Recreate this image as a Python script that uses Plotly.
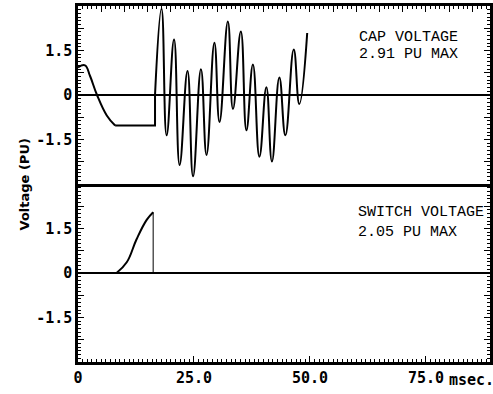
import plotly.graph_objects as go
from plotly.subplots import make_subplots

# ---- data ----
cap_pre_t = [0.0, 1.5, 2.6, 4.1, 6.2, 8.0]
cap_pre_v = [0.93, 1.0, 0.64, 0.0, -0.69, -1.03]
cap_flat_t = [8.0, 16.6, 16.6]
cap_flat_v = [-1.03, -1.03, 0.0]
cap_osc_t = [16.6, 18.0, 19.1, 20.7, 21.9, 23.6, 24.8, 26.5, 27.7, 29.4, 30.5,
             32.3, 33.4, 35.1, 36.3, 37.7, 39.1, 40.6, 41.8, 43.4, 44.7, 46.5,
             47.7, 49.4]
cap_osc_v = [0.0, 2.91, -1.36, 1.87, -2.36, 0.81, -2.74, 0.87, -2.02, 1.76, -0.91,
             2.48, -0.47, 2.14, -1.19, 1.03, -2.08, 0.26, -2.24, 0.59, -1.36, 1.53,
             -0.3, 2.09]

sw_t = [8.3, 10.5, 12.6, 14.8, 16.2]
sw_v = [0.0, 0.36, 1.13, 1.79, 2.05]
sw_drop_t = [16.2, 16.2]
sw_drop_v = [2.05, 0.0]

x_range = [0, 88.8]
y_range = [-3, 3]
x_major = [v * 5 for v in range(18)]
x_labels = {0: "0", 25: "25.0", 50: "50.0", 75: "75.0"}
y_major = [-3 + 0.75 * i for i in range(9)]
y_labels = {1.5: "1.5", 0.0: "0", -1.5: "-1.5"}

fig = make_subplots(rows=2, cols=1, vertical_spacing=0)

line = dict(color="black", width=2)
fig.add_trace(go.Scatter(x=cap_pre_t, y=cap_pre_v, mode="lines",
                         line=dict(shape="spline", smoothing=1.2, **line)), 1, 1)
fig.add_trace(go.Scatter(x=cap_flat_t, y=cap_flat_v, mode="lines", line=line), 1, 1)
fig.add_trace(go.Scatter(x=cap_osc_t, y=cap_osc_v, mode="lines",
                         line=dict(shape="spline", smoothing=1.3, **line)), 1, 1)
fig.add_trace(go.Scatter(x=sw_t, y=sw_v, mode="lines",
                         line=dict(shape="spline", smoothing=1.2, **line)), 2, 1)
fig.add_trace(go.Scatter(x=sw_drop_t, y=sw_drop_v, mode="lines",
                         line=dict(color="black", width=1)), 2, 1)

tickfont = dict(family="DejaVu Sans Mono", size=15, color="black", weight="bold")

xcommon = dict(range=x_range, showgrid=False, zeroline=False, showline=True,
               linecolor="black", linewidth=2.5, ticks="inside", ticklen=6,
               tickcolor="black", tickwidth=1.2, automargin=False,
               tickmode="array", tickvals=x_major,
               minor=dict(tickvals=list(range(0, 89)), ticks="inside", ticklen=3,
                          tickcolor="black", tickwidth=1))
fig.update_xaxes(side="top", showticklabels=False, mirror=True, row=1, col=1, **xcommon)
fig.update_xaxes(side="bottom", mirror=False, ticktext=[x_labels.get(v, "") for v in x_major],
                 tickfont=tickfont, row=2, col=1, **xcommon)

ycommon = dict(range=y_range, showgrid=False, zeroline=True, zerolinecolor="black",
               zerolinewidth=2, showline=True, linecolor="black", linewidth=2.5,
               ticks="inside", ticklen=6, tickcolor="black", tickwidth=1.2,
               mirror="ticks", tickmode="array", tickvals=y_major, automargin=False,
               ticktext=[y_labels.get(v, "") for v in y_major], tickfont=tickfont,
               minor=dict(dtick=0.125, ticks="inside", ticklen=3, tickcolor="black", tickwidth=1))
fig.update_yaxes(row=1, col=1, **ycommon)
fig.update_yaxes(row=2, col=1, **ycommon)

afont = dict(family="Liberation Mono", size=15, color="black")
ann = [
    dict(x=60.2, y=1.93, xref="x", yref="y", text="CAP VOLTAGE"),
    dict(x=60.2, y=1.37, xref="x", yref="y", text="2.91 PU MAX"),
    dict(x=60.0, y=2.04, xref="x2", yref="y2", text="SWITCH VOLTAGE"),
    dict(x=60.0, y=1.38, xref="x2", yref="y2", text="2.05 PU MAX"),
]
for a in ann:
    fig.add_annotation(xanchor="left", yanchor="middle", showarrow=False, font=afont, **a)

fig.add_annotation(x=-0.153, y=0.5, xref="paper", yref="paper", text="Voltage (PU)",
                   textangle=-90, showarrow=False,
                   font=dict(family="DejaVu Sans", size=13, color="black", weight="bold"))
fig.add_annotation(x=0.895, y=-0.05, xref="paper", yref="paper", text="msec.",
                   xanchor="left", yanchor="middle", showarrow=False, font=tickfont)

fig.update_layout(width=493, height=394, margin=dict(l=78, r=3, t=6, b=32),
                  paper_bgcolor="white", plot_bgcolor="white", showlegend=False)

fig.write_html("out.html", config={"displayModeBar": False},
               post_script="document.body.style.margin='0';document.body.style.overflow='hidden';")
